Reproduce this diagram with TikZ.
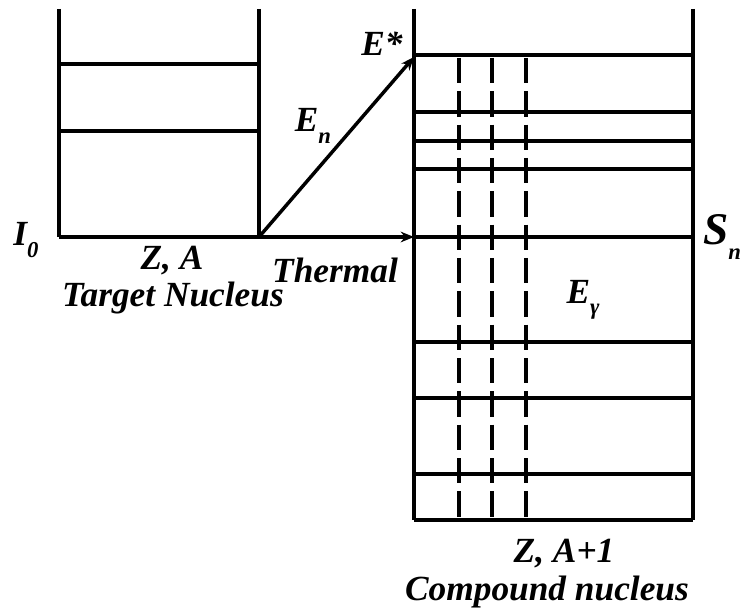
\documentclass[tikz,border=0pt]{standalone}
\usepackage{fontspec}
\setmainfont{Liberation Serif}
\usetikzlibrary{arrows.meta}
\newcommand{\lowsub}[1]{\raisebox{-0.32em}{\fontsize{17}{20}\selectfont #1}}
\begin{document}
\begin{tikzpicture}[x=0.75pt,y=-0.75pt,
  vline/.style={line width=3.3pt},
  hline/.style={line width=2.6pt},
  dline/.style={line width=3pt, dash pattern=on 19pt off 6pt},
  lbl/.style={font=\fontsize{26.5}{30}\selectfont\bfseries\itshape, inner sep=0pt},
  big/.style={font=\fontsize{34}{38}\selectfont\bfseries\itshape, inner sep=0pt},
  arr/.style={line width=2.6pt,-{Stealth[length=10pt,width=8pt]}}]
\useasboundingbox (0,0) rectangle (748,609);
% left box (target nucleus)
\coordinate (LTl) at (59,9);
\coordinate (LBl) at (59,237);
\coordinate (LTr) at (259,9);
\coordinate (LBr) at (259,237);
% right box (compound nucleus)
\coordinate (RTl) at (414,9);
\coordinate (RBl) at (414,520);
\coordinate (RTr) at (693,9);
\coordinate (RBr) at (693,520);
\coordinate (Estar) at (414,57);
\coordinate (Sn) at (414,237);
% left box
\draw[vline] (LTl) -- (LBl);
\draw[vline] (LTr) -- (LBr);
\draw[hline] (59,64) -- (259,64);
\draw[hline] (59,131) -- (259,131);
\draw[hline] (LBl) -- (LBr);
% right box
\draw[vline] (RTl) -- (RBl);
\draw[vline] (RTr) -- (RBr);
\draw[hline] (RBl) -- (RBr);
\foreach \y in {55,112,141,169,237,342,398,474}
  \draw[hline] (414,\y) -- (693,\y);
\foreach \x in {459,492,526}
  \draw[dline] (\x,58) -- (\x,520);
% arrows
\draw[arr] (LBr) -- (Estar);
\draw[arr] (LBr) -- (Sn);
% labels
\node[lbl] (I0) at (26,240) {I\lowsub{0}};
\node[lbl] (ZA) at (172,261) {Z, A};
\node[lbl] (TN) at (173,298) {Target Nucleus};
\node[lbl] (Th) at (335,270) {Thermal};
\node[lbl] (Es) at (382,44) {E*};
\node[lbl] (En) at (313,126) {E\lowsub{n}};
\node[big] (SnL) at (722,237) {S\lowsub{n}};
\node[lbl] (Eg) at (583,300) {E\lowsub{γ}};
\node[lbl] (ZA1) at (564,554) {Z, A+1};
\node[lbl] (CN) at (547,592) {Compound nucleus};
\end{tikzpicture}
\end{document}
